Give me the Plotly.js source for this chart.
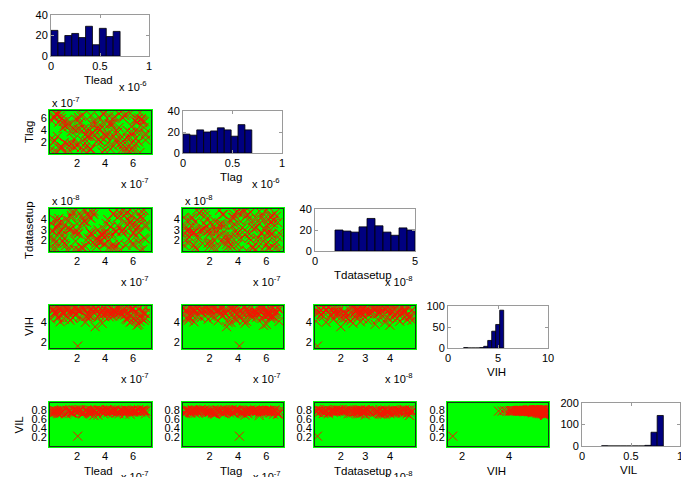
<!DOCTYPE html>
<html><head><meta charset="utf-8">
<script src="https://cdn.plot.ly/plotly-3.0.1.min.js"></script>
<style>html,body{margin:0;padding:0;background:#fff}#chart{width:681px;height:477px}</style>
</head><body><div id="chart"></div>
<script>
// ---- variables ----
const varNames = ['Tlead', 'Tlag', 'Tdatasetup', 'VIH', 'VIL'];

// samples (Tlead, Tlag in units of 1e-7; Tdatasetup in units of 1e-8)
const tlead = [2.05,3.3,0.8,5.2,2.7,4.5,1.3,6.8,3.9,0.4,5.7,2.1,4.9,1.8,6.4,
0.2,3.1,5.5,2.4,6.9,4.2,1.0,3.7,5.9,0.6,4.7,2.9,6.6,1.5,3.3,
5.0,0.9,6.2,2.2,4.0,1.7,5.4,3.6,0.3,6.7,2.6,4.4,1.1,5.8,3.0,
6.0,1.4,4.8,2.8,0.5,5.3,3.8,6.5,1.9,4.1,0.7,5.6,2.3,6.3,3.5,
1.2,4.6,2.0,6.9,3.2,0.1,5.1,2.5,4.3,1.6,6.0,3.9,0.8,5.5,2.8,
4.9,0.4,6.6,3.4,1.9,5.8,2.6,4.2,0.9,6.2,3.0,1.4,5.2,2.0,4.6,
6.8,2.4,0.6,3.8,5.0,1.1,4.4,6.4,2.9,0.3,5.6,3.3,1.7,6.1,4.0,
0.9,5.4,3.1,6.7,1.5,4.8,2.2,0.5,5.9,3.6,6.3,1.2,4.5,2.7,5.3,
3.7,1.0,6.0,2.3,4.7,0.2,5.7,3.2,1.8,6.5,2.5,4.1,0.7,5.0,3.5,
2.1,6.2,4.3,0.6,5.5,1.6,3.9,6.9,2.8,4.6,1.3,5.8,3.0,0.4,6.4];

const tlag = [4.1,3.2,6.3,0.7,2.9,5.1,1.6,4.4,6.8,2.2,0.4,5.7,3.6,1.1,6.0,
2.6,4.9,0.9,6.5,3.4,1.8,5.4,2.0,4.6,0.3,6.2,3.0,5.9,1.4,4.0,
6.7,1.2,3.8,5.2,0.6,4.3,2.4,6.1,1.9,5.6,3.3,0.8,4.8,2.7,6.4,
0.5,5.0,2.1,3.7,6.6,1.5,4.5,0.2,5.8,2.8,6.9,3.9,1.0,5.3,2.3,
4.7,6.0,1.3,3.1,5.5,0.6,2.5,4.2,6.3,1.7,3.5,5.1,0.9,6.6,2.9,
3.6,0.4,5.7,2.0,4.0,6.8,1.1,3.3,5.9,2.6,0.7,4.6,6.2,1.6,3.0,
5.4,2.2,6.5,0.3,4.4,1.9,5.0,3.8,0.8,6.1,2.7,4.9,1.4,5.6,3.2,
1.0,6.4,3.4,5.2,0.5,2.4,4.1,6.7,1.8,3.9,5.8,0.2,4.8,2.1,6.0,
2.8,4.3,0.9,6.3,3.6,5.5,1.2,4.7,2.5,6.9,0.6,3.1,5.3,1.5,4.5,
6.1,1.7,5.0,2.9,0.4,3.7,6.6,2.3,4.2,1.3,5.7,3.5,0.8,6.2,2.0];

const tdatasetup = [1.05,2.0,3.7,2.8,4.5,1.3,3.1,4.9,2.3,1.7,3.9,2.7,4.2,1.1,3.4,
2.9,4.7,1.5,3.6,2.1,4.0,1.9,2.6,4.4,3.2,1.2,2.8,4.8,3.0,1.6,
4.3,2.4,3.5,1.0,2.7,4.6,3.8,1.8,2.9,4.1,1.4,3.3,2.2,4.9,2.6,
1.7,3.9,2.8,4.5,1.2,3.0,2.5,4.2,1.9,3.6,2.7,4.7,1.3,3.2,2.0,
4.0,1.6,2.9,3.5,4.8,2.3,1.1,3.8,2.6,4.4,1.5,3.1,2.8,4.6,1.8,
3.4,2.1,4.3,1.4,2.7,3.7,4.9,1.9,3.0,2.4,4.1,1.0,2.9,3.6,4.5,
2.2,1.3,3.9,2.6,4.7,1.7,3.3,2.8,4.2,1.2,3.5,2.0,4.8,2.7,1.6,
3.8,4.4,2.5,1.1,3.1,2.9,4.6,1.8,3.4,2.3,4.0,1.5,2.6,3.7,4.9,
1.9,3.2,2.7,4.3,1.4,3.6,2.1,4.5,2.8,1.0,3.9,2.4,4.1,1.7,3.0,
2.6,4.8,1.3,3.5,2.9,4.2,1.6,3.3,2.2,4.6,1.1,3.8,2.7,4.0,1.8];

const vih = [1.6,3.55,5.3,4.9,5.5,4.6,5.2,4.2,5.4,5.0,4.5,5.35,4.85,5.45,3.8,
5.25,4.7,5.1,5.5,4.4,5.3,4.95,5.4,4.1,5.2,4.8,5.55,4.65,5.05,5.35,
4.9,5.45,4.3,5.2,4.55,5.0,5.5,4.75,5.3,5.15,4.0,5.4,4.85,5.25,4.6,
5.35,4.45,5.1,5.55,4.8,5.2,3.9,5.45,4.7,4.95,5.3,4.25,5.5,5.0,4.5,
5.4,4.65,5.25,4.9,5.5,4.35,5.05,5.3,4.55,5.15,5.45,4.85,4.05,5.2,4.7,
5.5,5.0,4.4,5.35,4.8,5.55,4.6,5.1,5.25,4.15,5.4,4.95,4.75,5.3,5.2,
4.9,5.45,4.5,5.15,5.5,4.3,5.05,5.35,4.65,5.2,4.85,5.4,4.45,5.0,5.3,
5.25,4.7,5.55,4.95,4.2,5.45,4.55,5.1,5.35,4.8,3.7,5.5,5.0,4.6,5.2,
5.4,4.85,5.3,4.4,5.15,5.5,4.75,5.05,5.25,4.1,5.45,4.9,4.5,5.35,5.55,
5.2,4.65,5.0,5.45,4.35,5.3,4.8,5.5,4.45,5.1,5.4,4.0,5.25,4.95,5.35];

const vil = [0.22,0.78,0.74,0.79,0.81,0.77,0.80,0.78,0.72,0.75,0.79,0.78,0.76,0.80,0.79,
0.79,0.80,0.75,0.71,0.78,0.74,0.78,0.77,0.79,0.73,0.79,0.72,0.76,0.81,0.79,
0.77,0.73,0.79,0.81,0.78,0.74,0.71,0.80,0.75,0.80,0.78,0.81,0.80,0.76,0.79,
0.80,0.77,0.79,0.74,0.78,0.78,0.78,0.76,0.79,0.80,0.72,0.79,0.73,0.77,0.80,
0.72,0.79,0.80,0.78,0.68,0.78,0.80,0.74,0.79,0.75,0.80,0.79,0.79,0.81,0.77,
0.75,0.79,0.79,0.75,0.80,0.71,0.78,0.81,0.77,0.78,0.74,0.76,0.79,0.80,0.74,
0.80,0.73,0.78,0.79,0.72,0.79,0.77,0.81,0.80,0.79,0.78,0.80,0.80,0.76,0.77,
0.81,0.78,0.74,0.80,0.79,0.73,0.80,0.76,0.79,0.81,0.78,0.72,0.79,0.79,0.78,
0.79,0.77,0.76,0.80,0.81,0.73,0.78,0.79,0.80,0.78,0.75,0.81,0.79,0.78,0.69,
0.77,0.80,0.78,0.75,0.79,0.73,0.79,0.72,0.78,0.80,0.74,0.78,0.79,0.79,0.81];

// histogram counts (10 bins)
const tleadHist = [25,13,20,22,18,29,11,27,19,24];
const tlagHist  = [18,17,22,20,21,24,22,16,27,22];
const tdsHist   = [20,19,18,23,31,24,18,15,22,20];
const vihHist   = [1,0,0,0,1,4,18,40,56,90];
const vilHist   = [1,0,0,0,0,0,0,3,64,142];
// bin extents in histogram-axis units (Tlead/Tlag x1e-6, Tdatasetup x1e-8)
const tleadBins = [0, 0.705];
const tlagBins  = [0, 0.695];
const tdsBins   = [1, 5];
const vihBins   = [1.57, 5.57];
const vilBins   = [0.2, 0.83];

// axis ticks / ranges
const scatterRanges = [[0.07,7.29],[0.13,7.17],[0.95,5.02],[1.4,5.65],[0,0.96]];
const scatterTicks  = [[2,4,6],[2,4,6],[2,3,4],[2,4],[0.2,0.4,0.6,0.8]];
const scatterExp    = ['-7','-7','-8',null,null];
const histXRanges = [[0,1],[0,1],[0,5],[0,10],[0,1]];
const histXTicks  = [[0,0.5,1],[0,0.5,1],[0,5],[0,5,10],[0,0.5,1]];
const histYRanges = [[0,40],[0,40],[0,40],[0,100],[0,200]];
const histYTicks  = [[0,20,40],[0,20,40],[0,20,40],[0,50,100],[0,100,200]];
const histExp     = ['-6','-6','-8',null,null];

// ---- layout geometry (pixels) ----
const W = 681, H = 477;
const colPx = [[50,151],[183,283],[315,415],[448,548],[581,680]];
const rowPx = [[15,56],[111,153],[209,251],[306,348],[403,446]];
const histColPx = [[51,149],[183,282],[315,415],[448,548],[582,680]];
const px = x => x / W, py = y => 1 - y / H;

const samples = [tlead, tlag, tdatasetup, vih, vil];
const hists = [tleadHist, tlagHist, tdsHist, vihHist, vilHist];
const bins = [tleadBins, tlagBins, tdsBins, vihBins, vilBins];

const FONT = '"Liberation Sans", Arial, Helvetica, sans-serif';
const data = [];
const layout = {
  width: W, height: H, margin: {l:0, r:0, t:0, b:0},
  paper_bgcolor: '#ffffff', plot_bgcolor: 'rgba(0,0,0,0)',
  showlegend: false, hovermode: false,
  font: {family: FONT, size: 11, color: '#000'},
  shapes: [], annotations: []
};

function ann(text, x, y, o) {
  layout.annotations.push(Object.assign({
    text: text, xref: 'paper', yref: 'paper', x: px(x), y: py(y),
    showarrow: false, xanchor: 'center', yanchor: 'middle',
    font: {family: FONT, size: 11.5, color: '#000'}
  }, o || {}));
}

let k = 0;
for (let r = 0; r < 5; r++) {
  for (let c = 0; c <= r; c++) {
    k++;
    const sfx = k === 1 ? '' : String(k);
    const isHist = r === c;
    const [xl, xr] = isHist ? histColPx[c] : colPx[c];
    const [yt, yb] = rowPx[r];
    const common = {showgrid: false, zeroline: false, fixedrange: true,
      ticklabeloverflow: 'allow',
      tickfont: {family: FONT, size: 11, color: '#000'}};
    if (isHist) {
      const counts = hists[r], b = bins[r], w = (b[1]-b[0]) / counts.length;
      data.push({type: 'bar', xaxis: 'x'+sfx, yaxis: 'y'+sfx,
        x: counts.map((_, i) => b[0] + (i + 0.5) * w), y: counts, width: w,
        marker: {color: '#000080', line: {color: '#000000', width: 0.8}}});
      const ax = Object.assign({}, common, {showline: true, mirror: 'ticks', linecolor: '#9a9a9a',
        linewidth: 1, ticks: 'inside', ticklen: 3, tickcolor: '#9a9a9a'});
      layout['xaxis'+sfx] = Object.assign({}, ax, {domain: [px(xl), px(xr)], anchor: 'y'+sfx,
        range: histXRanges[r], tickvals: histXTicks[r]});
      layout['yaxis'+sfx] = Object.assign({}, ax, {domain: [py(yb), py(yt)], anchor: 'x'+sfx,
        range: histYRanges[r], tickvals: histYTicks[r]});
      ann(varNames[r], (xl + xr) / 2 - 2, yb + 24);
      if (histExp[r]) ann('x 10<sup>' + histExp[r] + '</sup>', xr, yb + 30,
        {xanchor: 'right', font: {family: FONT, size: 11, color: '#000'}});
    } else {
      layout.shapes.push({type: 'rect', xref: 'paper', yref: 'paper', layer: 'below',
        x0: px(xl - 2), x1: px(xr + 2), y0: py(yb + 2), y1: py(yt - 2),
        fillcolor: '#00ff00', line: {width: 0}});
      data.push({type: 'scatter', mode: 'markers', xaxis: 'x'+sfx, yaxis: 'y'+sfx,
        x: samples[c], y: samples[r], cliponaxis: true,
        marker: {symbol: 'x-thin', size: 9, color: '#f01800', line: {color: '#f01800', width: 1}}});
      const ax = Object.assign({}, common, {showline: true, mirror: true, linecolor: '#1a331a',
        linewidth: 1, ticks: ''});
      layout['xaxis'+sfx] = Object.assign({}, ax, {domain: [px(xl), px(xr)], anchor: 'y'+sfx,
        range: scatterRanges[c], tickvals: scatterTicks[c]});
      layout['yaxis'+sfx] = Object.assign({}, ax, {domain: [py(yb), py(yt)], anchor: 'x'+sfx,
        range: scatterRanges[r], tickvals: scatterTicks[r]});
      if (scatterExp[c]) ann('x 10<sup>' + scatterExp[c] + '</sup>', xr, yb + 30,
        {xanchor: 'right', font: {family: FONT, size: 11, color: '#000'}});
      if (scatterExp[r]) ann('x 10<sup>' + scatterExp[r] + '</sup>', xl, yt - 9,
        {xanchor: 'left', font: {family: FONT, size: 11, color: '#000'}});
      if (r === 4) ann(varNames[c], (xl + xr) / 2 - 2, yb + 25);
      if (c === 0) ann(varNames[r], xl - (r === 4 ? 32 : 21), (yt + yb) / 2, {textangle: -90});
    }
  }
}

Plotly.newPlot('chart', data, layout, {displayModeBar: false, staticPlot: true});
</script>
</body></html>
